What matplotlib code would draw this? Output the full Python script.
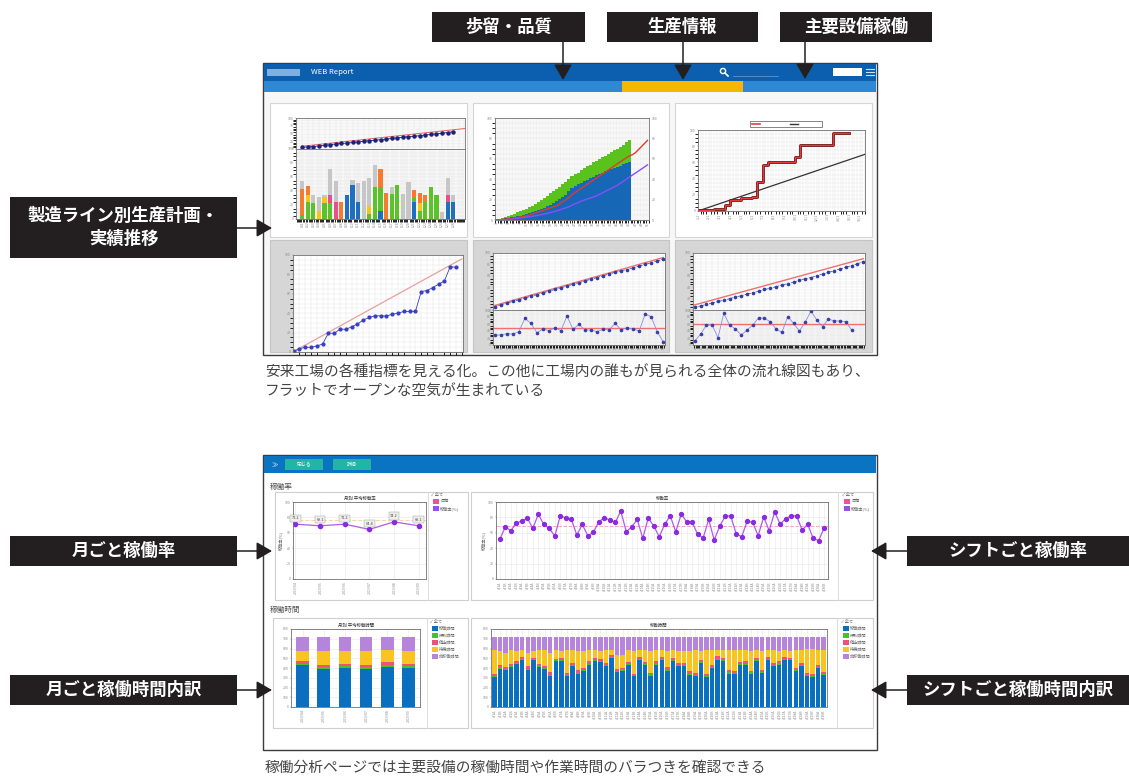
import matplotlib
matplotlib.use('Agg')
import matplotlib.pyplot as plt
from matplotlib.patches import Rectangle, Circle
import numpy as np

plt.rcParams['font.family'] = ['Noto Sans CJK JP', 'DejaVu Sans']

W, H = 1129, 776

# ---- top screenshot: line-by-line plan / actual (28 lines) ----
t1_actual = [5, 7, 8, 10, 12, 14, 16, 18, 19, 21, 23, 25, 27, 28,
             30, 32, 34, 36, 38, 40, 41, 43, 45, 47, 49, 51, 53, 56]
t1_plan_x = [0, 29]
t1_plan = [9, 66]
t1_blue   = [0, 0, 0, 0, 0, 0, 0, 0, 35, 48, 24, 0, 0, 0, 12, 0, 0, 0, 0, 0, 24, 0, 0, 0, 0, 0, 24, 24]
t1_green  = [6, 24, 23, 0, 23, 23, 0, 0, 0, 0, 0, 0, 7, 46, 34, 0, 36, 49, 0, 0, 6, 12, 24, 46, 35, 0, 0, 0]
t1_yellow = [0, 11, 0, 11, 9, 0, 0, 0, 0, 0, 0, 0, 11, 0, 0, 0, 0, 0, 0, 0, 0, 11, 0, 0, 0, 0, 0, 0]
t1_pink   = [0, 0, 0, 0, 0, 12, 24, 0, 0, 0, 0, 0, 0, 0, 0, 0, 0, 0, 0, 0, 0, 0, 0, 0, 0, 0, 11, 0]
t1_orange = [37, 12, 0, 0, 0, 0, 0, 24, 0, 0, 0, 0, 0, 0, 25, 37, 0, 0, 0, 0, 12, 14, 11, 0, 0, 0, 0, 0]
t1_gray   = [11, 0, 11, 20, 2, 36, 31, 0, 0, 8, 28, 55, 40, 31, 0, 0, 10, 0, 36, 53, 0, 0, 0, 0, 0, 10, 23, 11]

# ---- cumulative production (bars to day 45, lines to day 51) ----
t2_blue_top = [0, 0.5, 1, 1.5, 2, 2.5, 3, 3.5, 4, 5, 6, 7, 8, 9, 10, 11, 12, 14, 15, 17, 19, 21, 23,
               25, 28, 31, 33, 35, 36, 38, 39, 41, 42, 44, 45, 46, 48, 49, 50, 51, 52, 53, 55, 56, 57]
t2_green_top = [0.5, 1, 2, 3, 4, 5, 6, 7.5, 8.5, 10, 11, 12.5, 14, 16, 18, 20, 22, 24, 26, 28, 30, 32,
                35, 37, 40, 43, 45, 46, 49, 51, 53, 54, 57, 58, 60, 62, 63, 65, 67, 69, 70, 72, 74, 76, 78]
t2_red = [0, 0.2, 0.5, 0.8, 1.2, 1.6, 2, 2.5, 3, 3.5, 4, 5, 6, 7, 8, 9, 10, 11, 12, 13, 14, 16, 18,
          20, 22, 25, 27, 29, 31, 33, 35, 37, 39, 41, 43, 45, 47, 49, 51, 53, 55, 57, 59, 61, 63, 64,
          66, 69, 72, 75, 78]
t2_purple = [0, 0.1, 0.3, 0.5, 0.7, 1, 1.3, 1.6, 2, 2.4, 2.8, 3.2, 3.7, 4.2, 4.8, 5.4, 6, 6.7, 7.4,
             8.2, 9, 10, 11, 12, 13, 14.5, 16, 17, 18.5, 19.5, 20.5, 21.5, 22.5, 23.5, 25, 26.5, 28,
             29.5, 31, 32.5, 34, 36, 38, 40, 42, 44, 46, 48, 50, 52, 54]

# ---- step chart: plan vs actual ----
t3_actual = [1, 1, 1, 3, 3, 7, 13, 13, 16, 16, 17, 36, 57, 61, 61, 61, 61, 61, 67, 81,
             81, 81, 81, 81, 81, 96, 96, 96, 96]
t3_plan_x = [0, 31]
t3_plan = [0, 70]

# ---- lower row of top screenshot ----
b1_actual = [0.7, 3.4, 4.8, 4.8, 6.2, 8.2, 19.5, 19.2, 23.6, 23.3, 26, 28.8, 32.9, 35.6, 37.3,
             37.3, 37, 39, 40, 41.8, 41.8, 41.8, 62.3, 63.4, 66.4, 69.9, 73.3, 88, 87.3]
b1_plan_x = [0, 29]
b1_plan = [0.5, 96]

b2_upper = [6, 9, 12, 15, 18, 21, 24, 27, 30, 33, 36, 39, 42, 45, 48, 51, 54, 57, 60, 63,
            66, 69, 71, 74, 77, 80, 83, 86, 89]
b2_plan = [8, 92]
b2_lower = [28.6, 28.6, 32.4, 31.4, 38, 76, 62, 35, 45.7, 41, 49.5, 41, 82.9, 44.8, 59, 42.9,
            42.9, 38, 44.8, 42.9, 62, 42.9, 49.5, 45.7, 40, 88.6, 81, 38, 9.5]
b2_lower_ref = 47.6

b3_upper = [5, 7, 10, 12, 15, 17, 20, 23, 25, 28, 30, 33, 36, 38, 41, 44, 46, 49, 52, 55, 57,
            60, 63, 66, 69, 72, 75, 78, 81, 85]
b3_plan = [9, 90]
b3_lower = [11.4, 30.5, 57, 57, 21, 90.5, 57, 45.7, 28.6, 42.9, 57, 78, 76, 66.7, 45.7, 36,
            81, 62, 40, 64.8, 97, 71.4, 52.4, 74.3, 68.6, 68.6, 66.7, 42.9]
b3_lower_ref = 59

# ---- bottom screenshot: operating rate ----
months = ['2019/04', '2019/05', '2019/06', '2019/07', '2019/08', '2019/09']
m1_rate = [71.2, 69.1, 71.2, 64.4, 74.2, 69.1]
m1_target = 77
m2_rate = [51.5, 67.8, 62.7, 73, 75.1, 79, 65.7, 84.1, 70.8, 65.7, 55.8, 82.4, 79, 77.7,
           57.1, 70.8, 56.2, 60.5, 74.2, 79.8, 76.4, 73.4, 88.4, 61.4, 67.8, 77.3, 52.8, 79.4,
           68.7, 54.9, 71.2, 82, 61.4, 84.1, 74.2, 73.4, 57.9, 53.6, 77.3, 50.6, 68.7, 81.5,
           82, 58.4, 54.9, 75.1, 73.4, 56.2, 80.7, 62.7, 87.1, 71.2, 78.5, 82, 82, 63.5, 71.2,
           52.8, 49.8, 66.5]
m2_target = 68.7

# ---- bottom screenshot: operating time breakdown ----
avail_total = 716
m3_blue = [428, 394, 401, 394, 414, 401]
m3_green = [14, 14, 17, 14, 14, 17]
m3_pink = [27, 27, 27, 24, 34, 27]
m3_yellow_top = [579, 572, 572, 579, 589, 572]

m4_blue = [308, 394, 377, 408, 445, 479, 384, 479, 408, 390, 322, 469, 469, 315,
           418, 342, 366, 435, 469, 459, 425, 503, 356, 373, 428, 315, 479, 435, 322,
           435, 486, 373, 469, 418, 418, 332, 315, 452, 308, 401, 486, 469, 342, 342,
           435, 435, 342, 469, 349, 486, 418, 435, 486, 479, 366, 418, 315, 308, 401, 330]
m4_green = [10, 12, 9, 11, 10, 12, 9, 10, 11, 12, 10, 9, 11, 10, 12, 10, 9, 11, 12, 10,
            9, 10, 11, 12, 10, 9, 11, 10, 12, 10, 9, 11, 12, 10, 9, 10, 11, 12, 10, 9,
            11, 10, 12, 10, 9, 11, 12, 10, 9, 10, 11, 12, 10, 9, 11, 10, 12, 10, 9, 11]
m4_pink = [18, 22, 20, 25, 19, 21, 23, 18, 24, 20, 22, 19, 25, 21, 18, 23, 20, 22, 19, 24,
           21, 18, 23, 20, 25, 19, 22, 21, 18, 24, 20, 23, 19, 22, 21, 25, 18, 20, 23, 19,
           22, 24, 21, 18, 20, 23, 19, 25, 22, 21, 18, 24, 20, 19, 23, 22, 21, 18, 25, 20]
m4_yellow_top = [589, 572, 555, 589, 572, 589, 555, 572, 589, 589, 555, 589, 572, 582,
                 589, 572, 572, 589, 589, 572, 589, 589, 538, 538, 589, 572, 589, 589, 572,
                 589, 589, 572, 589, 572, 572, 572, 589, 572, 589, 589, 589, 589, 589, 589,
                 589, 589, 572, 589, 572, 589, 589, 572, 589, 572, 589, 589, 596, 596, 589, 589]

shift_days = ['4/%d' % d for d in range(1, 31)]
shift_labels = [d + s for d in shift_days for s in ('A', 'B')]

# colours
C_BOX = '#231f20'
C_BLUE = '#0b6fc0'
C_GREEN = '#4cbf2a'
C_PINK = '#f0507a'
C_YELLOW = '#f9c320'
C_PURPLE = '#b784dc'
C_TEXT = '#444444'

fig = plt.figure(figsize=(W / 100, H / 100), dpi=100)
bg = fig.add_axes([0, 0, 1, 1])
bg.set_xlim(0, W)
bg.set_ylim(H, 0)
bg.axis('off')


def rect(x0, y0, x1, y1, fc, ec='none', lw=0.8, z=1):
    bg.add_patch(Rectangle((x0, y0), x1 - x0, y1 - y0, facecolor=fc,
                           edgecolor=ec, linewidth=lw, zorder=z))


def label_box(x0, y0, x1, y1, text):
    rect(x0, y0, x1, y1, C_BOX, z=5)
    bg.text((x0 + x1) / 2, (y0 + y1) / 2, text, color='white', fontsize=12.5,
            fontweight='bold', ha='center', va='center', zorder=6, linespacing=1.3)


def arrow(x0, y0, x1, y1):
    bg.annotate('', xy=(x1, y1), xytext=(x0, y0), zorder=20,
                arrowprops=dict(arrowstyle='-|>,head_length=0.95,head_width=0.55',
                                color=C_BOX, lw=1.1, shrinkA=0, shrinkB=0))


def sub(x0, y0, x1, y1):
    return fig.add_axes([x0 / W, 1 - y1 / H, (x1 - x0) / W, (y1 - y0) / H])


def mini(ax, fine=True):
    ax.set_facecolor('white')
    for s in ax.spines.values():
        s.set_color('#707070')
        s.set_linewidth(0.6)
    ax.tick_params(labelsize=2.5, length=1, width=0.3, colors='#888888', pad=0.8)
    if fine:
        ax.minorticks_on()
        ax.grid(True, which='both', color='#e4e4e4', lw=0.35)
    else:
        ax.grid(True, color='#e6e6e6', lw=0.4)
    ax.set_axisbelow(True)


# ================= top screenshot =================
rect(263, 63, 877, 355, '#f7f7f7', ec='#3c3c3c', lw=1.0, z=1)
rect(264, 64, 876, 81, '#0b5fae', z=2)
rect(264, 81, 876, 92, '#2e88d4', z=2)
rect(622, 81, 743, 92, '#f6b700', z=3)
rect(267, 69, 300, 76, '#7fb0e2', z=3)
bg.text(311, 72.5, 'WEB Report', color='white', fontsize=5.5, va='center', zorder=4)
# search icon
bg.add_patch(Circle((723, 71), 2.6, facecolor='none', edgecolor='white', lw=1.0, zorder=4))
bg.plot([725, 728], [73, 76], color='white', lw=1.2, zorder=4)
bg.plot([733, 778], [76, 76], color='#6f9fd6', lw=0.5, zorder=4)
rect(833, 68, 862, 76, 'white', z=3)
for yy in (69, 72, 75):
    bg.plot([866, 874], [yy, yy], color='#cfe0f4', lw=0.8, zorder=4)

for x0, x1 in [(270, 467), (473, 669), (675, 872)]:
    rect(x0, 103, x1, 237, 'white', ec='#d5d5d5', lw=0.8, z=2)
    rect(x0, 240, x1, 352, '#d6d6d6', ec='#c4c4c4', lw=0.8, z=2)

x28 = np.arange(len(t1_actual))
ax = sub(296, 118, 465, 149)
mini(ax)
ax.plot(t1_plan_x, t1_plan, color='#e86060', lw=0.7)
ax.plot(x28, t1_actual, '-o', color='#1b237a', ms=2.2, lw=0.6)
ax.set_xlim(-1.1, 29.1)
ax.set_ylim(0, 100)
ax.set_xticklabels([])
ax.tick_params(axis='x', which='both', length=0)

ax = sub(296, 149, 465, 219)
mini(ax)
bottom = np.zeros(len(x28))
for vals, col in [(t1_blue, '#1e6fc0'), (t1_green, '#5cc12a'), (t1_yellow, '#f5c518'),
                  (t1_pink, '#e84f8c'), (t1_orange, '#f47b30'), (t1_gray, '#c6c6c6')]:
    ax.bar(x28, vals, bottom=bottom, width=0.75, color=col)
    bottom += np.array(vals)
ax.set_xlim(-1.1, 29.1)
ax.set_ylim(0, 100)
ax.set_xticks(x28)
ax.set_xticklabels(['L%02d' % (i + 1) for i in x28], rotation=90)

ax = sub(495, 118, 649, 220)
mini(ax)
xb = np.arange(len(t2_blue_top))
ax.bar(xb, t2_blue_top, width=1.0, color='#1667b5')
ax.bar(xb, np.array(t2_green_top) - np.array(t2_blue_top), bottom=t2_blue_top,
       width=1.0, color='#5ac21c')
xl = np.arange(len(t2_red))
ax.plot(xl, t2_red, color='#e03a2a', lw=1.0)
ax.plot(xl, t2_purple, color='#8a4dff', lw=1.0)
ax.set_xlim(-0.5, 50.5)
ax.set_ylim(0, 100)
ax.set_xticks(xl[::2])
ax.set_xticklabels([str(i + 1) for i in xl[::2]], rotation=90)
axr = ax.twinx()
axr.set_ylim(0, 100)
axr.tick_params(labelsize=2.5, length=1, width=0.3, colors='#888888', pad=0.8)
for s in axr.spines.values():
    s.set_visible(False)

ax = sub(698, 130, 865, 211)
mini(ax)
ax.plot(t3_plan_x, t3_plan, color='#333333', lw=0.9)
xs = np.arange(len(t3_actual))
ax.step(xs, t3_actual, where='post', color='#5a1010', lw=2.0)
ax.step(xs, t3_actual, where='post', color='#e83a3a', lw=1.0)
ax.set_xlim(0, 31)
ax.set_ylim(0, 100)
ax.set_xticks(np.arange(0, 32, 2))
ax.set_xticklabels(['%d/1' % (i // 2 + 1) for i in range(0, 32, 2)], rotation=90)
rect(750, 121, 822, 127, 'white', ec='#555555', lw=0.5, z=3)
bg.plot([752, 760], [124, 124], color='#e83a3a', lw=1.2, zorder=4)
bg.plot([790, 798], [124, 124], color='#333333', lw=1.0, zorder=4)

ax = sub(293, 255, 463, 352)
mini(ax)
ax.plot(b1_plan_x, b1_plan, color='#e8a0a0', lw=0.9)
ax.plot(np.arange(len(b1_actual)), b1_actual, '-o', color='#3a3fc0', ms=2.0, lw=0.6)
ax.set_xlim(-0.1, 29.2)
ax.set_ylim(0, 100)
ax.set_xticklabels([])

for (ux0, ux1), up, plan, low, ref in [((493, 665), b2_upper, b2_plan, b2_lower, b2_lower_ref),
                                      ((693, 865), b3_upper, b3_plan, b3_lower, b3_lower_ref)]:
    n = len(up)
    ax = sub(ux0, 253, ux1, 310)
    mini(ax)
    ax.plot([0, n - 1], plan, color='#f07070', lw=1.0)
    ax.plot(np.arange(n), up, '--o', color='#2f3fa8', ms=1.6, lw=0.5)
    ax.set_xlim(-0.3, n - 0.7)
    ax.set_ylim(0, 100)
    ax.set_xticklabels([])
    ax.tick_params(axis='x', which='both', length=0)
    ax = sub(ux0, 310, ux1, 345)
    mini(ax)
    ax.axhline(ref, color='#f07070', lw=1.0)
    ax.plot(np.arange(len(low)), low, '-o', color='#8a8ee0', ms=1.6, lw=0.6,
            mfc='#3a3fa8', mec='#3a3fa8')
    ax.set_xlim(-0.3, n - 0.7)
    ax.set_ylim(0, 100)
    ax.set_xticks(np.arange(n))
    ax.set_xticklabels([str(i + 1) for i in range(n)])

bg.text(265, 372, '安来工場の各種指標を見える化。この他に工場内の誰もが見られる全体の流れ線図もあり、',
        fontsize=10.6, color=C_TEXT, va='center')
bg.text(265, 392, 'フラットでオープンな空気が生まれている', fontsize=10.6, color=C_TEXT, va='center')

# ================= bottom screenshot =================
rect(263, 455, 877, 750, 'white', ec='#3c3c3c', lw=1.0, z=1)
rect(264, 456, 876, 473, '#0a74c2', z=2)
rect(285, 459, 323, 470, '#22b5a3', z=3)
rect(333, 459, 371, 470, '#22b5a3', z=3)
bg.text(272, 464.5, '\u226b', color='white', fontsize=4.5, va='center', zorder=4)
bg.text(304, 464.5, '閉じる', color='white', fontsize=3.5, ha='center', va='center', zorder=4)
bg.text(352, 464.5, '詳細', color='white', fontsize=3.5, ha='center', va='center', zorder=4)
bg.text(270, 487, '稼働率', fontsize=5.5, color='#555555', va='center')
bg.text(270, 610, '稼働時間', fontsize=5.5, color='#555555', va='center')

rect(275, 492, 468, 600, 'white', ec='#cfcfcf', lw=0.8, z=2)
rect(471, 492, 873, 600, 'white', ec='#cfcfcf', lw=0.8, z=2)
rect(273, 618, 468, 728, 'white', ec='#cfcfcf', lw=0.8, z=2)
rect(471, 618, 873, 728, 'white', ec='#cfcfcf', lw=0.8, z=2)
for xd, y0, y1 in [(428, 492, 600), (838, 492, 600), (427, 618, 728), (837, 618, 728)]:
    bg.plot([xd, xd], [y0, y1], color='#dcdcdc', lw=0.7, zorder=3)


def rate_legend(x, y):
    bg.text(x, y, '\u2713 全て', fontsize=3, color='#777777', va='center', zorder=4)
    for i, (col, lab) in enumerate([('#f0509a', '目標'), ('#9b4df0', '稼働率(%)')]):
        rect(x + 2, y + 4 + i * 7, x + 8, y + 9 + i * 7, col, z=4)
        bg.text(x + 9, y + 6.5 + i * 7, lab, fontsize=3, color='#666666', va='center', zorder=4)


def time_legend(x, y):
    bg.text(x, y, '\u2713 全て', fontsize=3, color='#777777', va='center', zorder=4)
    labs = ['稼働時間', '段取時間', '停止時間', '待機時間', '非稼働時間']
    for i, (col, lab) in enumerate(zip([C_BLUE, C_GREEN, C_PINK, C_YELLOW, C_PURPLE], labs)):
        rect(x + 2, y + 4 + i * 7, x + 8, y + 9 + i * 7, col, z=4)
        bg.text(x + 9, y + 6.5 + i * 7, lab, fontsize=3, color='#666666', va='center', zorder=4)


rate_legend(431, 495)
rate_legend(842, 495)
time_legend(430, 622)
time_legend(841, 622)

ax = sub(293, 502, 426, 579)
mini(ax, fine=False)
xm = np.arange(len(months))
ax.axhline(m1_target, color='#f3d9a8', lw=0.8, ls='--')
ax.plot(xm, m1_rate, '-o', color='#b35ae6', ms=3, lw=0.9, mfc='#8a2be2', mec='#8a2be2')
for xi, v in zip(xm, m1_rate):
    ax.annotate('%.1f' % v, (xi, v), xytext=(0, 3.5), textcoords='offset points',
                ha='center', fontsize=2.8, color='#444444',
                bbox=dict(boxstyle='square,pad=0.4', fc='#eeeeea', ec='#999999', lw=0.3))
ax.set_xlim(-0.1, 5.3)
ax.set_ylim(0, 100)
ax.set_yticks([0, 20, 40, 60, 80, 100])
ax.set_xticks(xm)
ax.set_xticklabels(months, rotation=90)
ax.set_ylabel('稼働率(%)', fontsize=3, color='#666666', labelpad=1)
ax.set_title('月別 平均稼働率', fontsize=3.2, color='#333333', pad=1.5)

ax = sub(496, 502, 828, 579)
mini(ax, fine=False)
xsft = np.arange(len(m2_rate))
ax.axhline(m2_target, color='#f4a6c6', lw=0.7, ls='--')
ax.plot(xsft, m2_rate, '-o', color='#b35ae6', ms=2.8, lw=0.9, mfc='#8a2be2', mec='#8a2be2')
ax.set_xlim(-0.7, len(m2_rate) - 0.3)
ax.set_ylim(0, 100)
ax.set_yticks([0, 20, 40, 60, 80, 100])
ax.set_xticks(xsft)
ax.set_xticklabels(shift_labels, rotation=90)
ax.set_ylabel('稼働率(%)', fontsize=3, color='#666666', labelpad=1)
ax.set_title('稼働率', fontsize=3.2, color='#333333', pad=1.5)


def stacked(ax, blue, green, pink, ytop, width):
    blue, green, pink, ytop = map(np.array, (blue, green, pink, ytop))
    x = np.arange(len(blue))
    yellow = ytop - blue - green - pink
    purple = avail_total - ytop
    bottom = np.zeros(len(x))
    for vals, col in [(blue, C_BLUE), (green, C_GREEN), (pink, C_PINK),
                      (yellow, C_YELLOW), (purple, C_PURPLE)]:
        ax.bar(x, vals, bottom=bottom, width=width, color=col)
        bottom += vals
    return x


ax = sub(291, 629, 420, 707)
mini(ax, fine=False)
xm3 = stacked(ax, m3_blue, m3_green, m3_pink, m3_yellow_top, 0.6)
ax.set_xlim(-0.55, 5.55)
ax.set_ylim(0, 800)
ax.set_yticks(range(0, 801, 100))
ax.set_xticks(xm3)
ax.set_xticklabels(months, rotation=90)
ax.set_title('月別 平均稼働時間', fontsize=3.2, color='#333333', pad=1.5)

ax = sub(491, 629, 827, 707)
mini(ax, fine=False)
xm4 = stacked(ax, m4_blue, m4_green, m4_pink, m4_yellow_top, 0.8)
ax.set_xlim(-0.6, len(m4_blue) - 0.4)
ax.set_ylim(0, 800)
ax.set_yticks(range(0, 801, 100))
ax.set_xticks(xm4)
ax.set_xticklabels(shift_labels, rotation=90)
ax.set_title('稼働時間', fontsize=3.2, color='#333333', pad=1.5)

bg.text(265, 768, '稼働分析ページでは主要設備の稼働時間や作業時間のバラつきを確認できる',
        fontsize=10.6, color=C_TEXT, va='center')

# ================= callout labels =================
label_box(432, 12, 585, 42, '歩留・品質')
label_box(607, 12, 758, 42, '生産情報')
label_box(780, 12, 932, 42, '主要設備稼働')
label_box(10, 197, 237, 258, '製造ライン別生産計画・\n実績推移')
label_box(10, 536, 237, 566, '月ごと稼働率')
label_box(10, 675, 237, 705, '月ごと稼働時間内訳')
label_box(907, 536, 1129, 566, 'シフトごと稼働率')
label_box(907, 675, 1129, 705, 'シフトごと稼働時間内訳')

arrow(563, 42, 563, 80)
arrow(683, 42, 683, 80)
arrow(805, 42, 805, 79)
arrow(237, 228, 272, 228)
arrow(237, 551, 272, 551)
arrow(237, 690, 272, 690)
arrow(907, 551, 871, 551)
arrow(907, 690, 871, 690)

fig.savefig('out.png', dpi=100)
